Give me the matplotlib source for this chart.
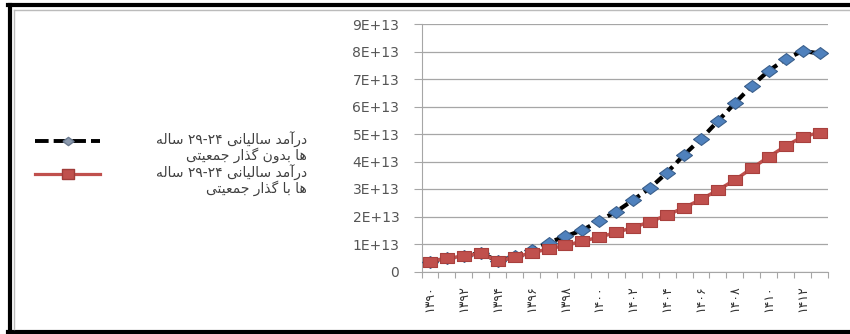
import matplotlib
matplotlib.use('Agg')
import matplotlib.pyplot as plt
from matplotlib.lines import Line2D

# ---------------- data ----------------
years = list(range(1390, 1414))
without_transition = [0.36, 0.48, 0.56, 0.68, 0.38, 0.55, 0.80, 1.05, 1.28, 1.50,
                      1.85, 2.18, 2.60, 3.04, 3.60, 4.24, 4.82, 5.47, 6.12, 6.75,
                      7.30, 7.72, 8.02, 7.93]
with_transition = [0.36, 0.48, 0.56, 0.66, 0.38, 0.52, 0.68, 0.82, 0.95, 1.10,
                   1.25, 1.42, 1.60, 1.81, 2.05, 2.32, 2.62, 2.96, 3.33, 3.75,
                   4.17, 4.56, 4.90, 5.05]
scale = 1e13
series_names = ["درآمد سالیانی ۲۴-۲۹ ساله\nها بدون گذار جمعیتی",
                "درآمد سالیانی ۲۴-۲۹ ساله\nها با گذار جمعیتی"]
y_ticks = [0, 1, 2, 3, 4, 5, 6, 7, 8, 9]
y_tick_labels = ["0", "1E+13", "2E+13", "3E+13", "4E+13", "5E+13",
                 "6E+13", "7E+13", "8E+13", "9E+13"]

# ------------- minimal Arabic-script shaping (for display) -------------
FORMS = {
    'ا': ('\uFE8D', '\uFE8E', None, None),
    'آ': ('\uFE81', '\uFE82', None, None),
    'د': ('\uFEA9', '\uFEAA', None, None),
    'ذ': ('\uFEAB', '\uFEAC', None, None),
    'ر': ('\uFEAD', '\uFEAE', None, None),
    'و': ('\uFEED', '\uFEEE', None, None),
    'م': ('\uFEE1', '\uFEE2', '\uFEE3', '\uFEE4'),
    'س': ('\uFEB1', '\uFEB2', '\uFEB3', '\uFEB4'),
    'ل': ('\uFEDD', '\uFEDE', '\uFEDF', '\uFEE0'),
    'ی': ('\uFBFC', '\uFBFD', '\uFBFE', '\uFBFF'),
    'ن': ('\uFEE5', '\uFEE6', '\uFEE7', '\uFEE8'),
    'ه': ('\uFEE9', '\uFEEA', '\uFEEB', '\uFEEC'),
    'ب': ('\uFE8F', '\uFE90', '\uFE91', '\uFE92'),
    'گ': ('\uFB92', '\uFB93', '\uFB94', '\uFB95'),
    'ج': ('\uFE9D', '\uFE9E', '\uFE9F', '\uFEA0'),
    'ع': ('\uFEC9', '\uFECA', '\uFECB', '\uFECC'),
    'ت': ('\uFE95', '\uFE96', '\uFE97', '\uFE98'),
}


def shape_line(s):
    chars = list(s)
    out = []
    for i, c in enumerate(chars):
        if c not in FORMS:
            out.append(c)
            continue
        iso, fin, ini, med = FORMS[c]
        prev = chars[i - 1] if i > 0 else None
        nxt = chars[i + 1] if i + 1 < len(chars) else None
        jp = prev in FORMS and FORMS[prev][2] is not None
        jn = ini is not None and nxt in FORMS
        if jp and jn:
            out.append(med)
        elif jp:
            out.append(fin)
        elif jn:
            out.append(ini)
        else:
            out.append(iso)
    tokens = []
    for c in out:
        isd = ('\u06F0' <= c <= '\u06F9') or c.isdigit()
        if tokens and tokens[-1][0] == isd:
            tokens[-1][1].append(c)
        else:
            tokens.append([isd, [c]])
    vis = ''
    for isd, cs in reversed(tokens):
        vis += ''.join(cs) if isd else ''.join(reversed(cs))
    return vis


to_fa = str.maketrans('0123456789', '۰۱۲۳۴۵۶۷۸۹')

# wide marker shapes (the reference looks horizontally stretched)
wide_diamond = [(-1.35, 0), (0, 1), (1.35, 0), (0, -1), (-1.35, 0)]
wide_square = [(-1.35, -1), (1.35, -1), (1.35, 1), (-1.35, 1), (-1.35, -1)]

# ---------------- figure ----------------
W, H = 850, 334
fig = plt.figure(figsize=(W / 100, H / 100), dpi=100)
fig.patch.set_facecolor('white')


def fx(px):
    return px / W


def fy(py):
    return 1 - py / H


ax = fig.add_axes([fx(421.5), fy(271.5), fx(828) - fx(421.5), fy(24) - fy(271.5)])
x = list(range(len(years)))
yb = [v * scale for v in without_transition]
yr = [v * scale for v in with_transition]

ax.plot(x, yb, color='black', lw=3, linestyle=(0, (2.2, 1.3)),
        marker=wide_diamond, ms=11.5, mfc='#4F81BD', mec='#3A5F8C', mew=0.8, zorder=3)
ax.plot(x, yr, color='#C0504D', lw=2.5, marker=wide_square, ms=10.5,
        mfc='#C0504D', mec='#A8403D', mew=0.8, zorder=4)

ax.set_xlim(-0.5, len(years) - 0.5)
ax.set_ylim(0, 9 * scale)
ax.set_yticks([t * scale for t in y_ticks])
ax.set_yticklabels(y_tick_labels, fontsize=10, color='#555555')
ax.yaxis.grid(True, color='#A6A6A6', lw=0.9)
ax.set_axisbelow(True)
ax.tick_params(axis='y', length=6, color='#A6A6A6', pad=10)

ax.set_xticks([i - 0.5 for i in range(len(years) + 1)])
ax.set_xticklabels([])
ax.tick_params(axis='x', which='major', length=4, color='#A6A6A6', direction='out')
ax.set_xticks(x[::2], minor=True)
ax.set_xticklabels([str(y).translate(to_fa) for y in years[::2]], minor=True,
                   rotation=90, fontsize=9, color='#333333')
ax.tick_params(axis='x', which='minor', length=0, pad=10)

for s in ['top', 'right']:
    ax.spines[s].set_visible(False)
ax.spines['left'].set_color('#A6A6A6')
ax.spines['bottom'].set_color('#A6A6A6')

# ---------------- legend (manual) ----------------
keys = [
    dict(color='black', lw=2.8, linestyle=(0, (3.5, 1.3)), marker=wide_diamond, ms=8,
         mfc='#8C9AAE', mec='#6B7A8F'),
    dict(color='#C0504D', lw=2.3, marker=wide_square, ms=9, mfc='#C0504D', mec='#A03C39'),
]
key_y = [141, 174]
for name, style, ky in zip(series_names, keys, key_y):
    ln = Line2D([fx(35), fx(67.5), fx(100)], [fy(ky)] * 3, transform=fig.transFigure,
                markevery=[1], **style)
    fig.add_artist(ln)
    shaped = '\n'.join(shape_line(line) for line in name.split('\n'))
    fig.text(fx(307), fy(ky - 9), shaped, ha='right', va='top', multialignment='right',
             linespacing=0.95, fontsize=10, color='#404040', family='DejaVu Sans')

# ---------------- frame ----------------
frame = [
    ([8, 850], [5, 5], 'black', 3),
    ([10, 10], [5, 332], 'black', 3),
    ([8, 850], [332, 332], 'black', 3),
    ([14, 850], [9.5, 9.5], '#BBBBBB', 1),
    ([14, 14], [9.5, 329], '#BBBBBB', 1),
]
for xs, ys, c, lw in frame:
    fig.add_artist(Line2D([fx(v) for v in xs], [fy(v) for v in ys],
                          transform=fig.transFigure, color=c, lw=lw))

fig.savefig('out.png', dpi=100)
